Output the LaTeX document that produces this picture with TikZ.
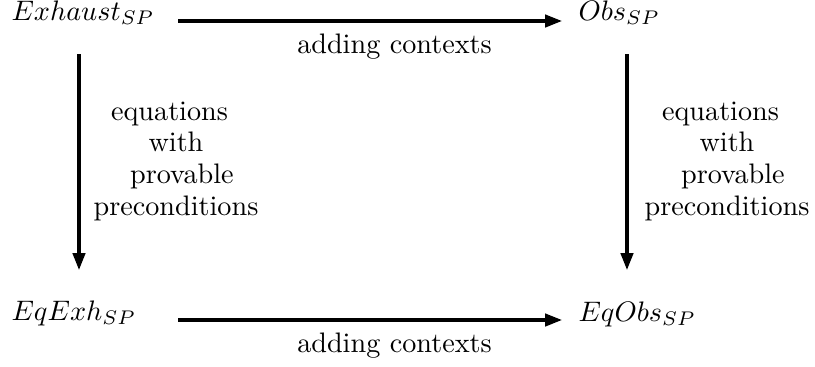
\documentclass[tikz,border=0pt]{standalone}
\usetikzlibrary{arrows.meta}
\begin{document}
\begin{tikzpicture}[x=0.3546pt,y=-0.3546pt,
  obj/.style={inner sep=0pt,anchor=base west},
  lbl/.style={inner sep=0pt,anchor=base},
  side/.style={inner sep=0pt,anchor=base,align=center,font=\fontsize{10}{11.2}\selectfont},
  arr/.style={line width=1.1pt,-{Triangle[length=6pt,width=4.4pt]}}]
\useasboundingbox (0,0) rectangle (815,366);
\node[obj] (exh) at (11,20) {$Exhaust_{SP}$};
\node[obj] (obs) at (578,20) {$Obs_{SP}$};
\node[obj] (eqexh) at (11,320) {$EqExh_{SP}$};
\node[obj] (eqobs) at (578,321) {$EqObs_{SP}$};
\coordinate (t1) at (178,21);
\coordinate (t2) at (562,21);
\coordinate (b1) at (178,320);
\coordinate (b2) at (562,320);
\coordinate (l1) at (79,54);
\coordinate (l2) at (79,270);
\coordinate (r1) at (627,54);
\coordinate (r2) at (627,270);
\draw[arr] (t1) -- (t2);
\draw[arr] (b1) -- (b2);
\draw[arr] (l1) -- (l2);
\draw[arr] (r1) -- (r2);
\node[lbl] (topl) at (394.5,53) {adding contexts};
\node[lbl] (botl) at (394.5,352) {adding contexts};
\node[side] (leftl) at (176,215) {equations\hspace*{4.6pt}\\ with\hspace*{2.1pt}\\ \hspace*{4.2pt}provable\\ preconditions};
\node[side] (rightl) at (727,215) {equations\hspace*{4.6pt}\\ with\hspace*{2.1pt}\\ \hspace*{4.2pt}provable\\ preconditions};
\end{tikzpicture}
\end{document}
